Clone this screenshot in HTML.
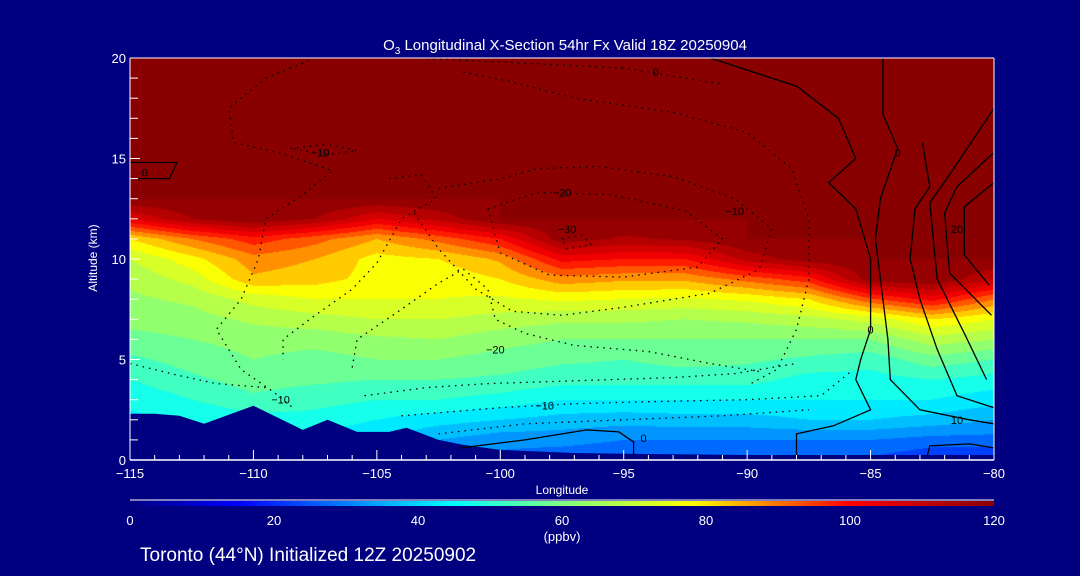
<!DOCTYPE html>
<html><head><meta charset="utf-8">
<style>
html,body{margin:0;padding:0;background:#000080;}
#wrap{position:relative;width:1080px;height:576px;background:#000080;overflow:hidden;font-family:"Liberation Sans",sans-serif;}
#field{position:absolute;left:130px;top:58px;}
svg{position:absolute;left:0;top:0;}
</style></head>
<body>
<div id="wrap">
<canvas id="field" width="864" height="402"></canvas>
<svg id="svg" width="1080" height="576">
  <defs>
    <linearGradient id="cbar" x1="0" x2="1" y1="0" y2="0">
      <stop offset="0" stop-color="rgb(0,0,130)"/>
      <stop offset="0.125" stop-color="rgb(0,0,255)"/>
      <stop offset="0.375" stop-color="rgb(0,255,255)"/>
      <stop offset="0.5" stop-color="rgb(128,255,128)"/>
      <stop offset="0.65" stop-color="rgb(255,255,0)"/>
      <stop offset="0.833" stop-color="rgb(255,0,0)"/>
      <stop offset="1" stop-color="rgb(136,0,0)"/>
    </linearGradient>
  </defs>
  <g id="terrain"></g>
  <g id="contours"></g>
  <g id="axes"></g>
  <text x="565" y="50" fill="#fff" font-size="15" text-anchor="middle">O<tspan font-size="10" dy="4">3</tspan><tspan dy="-4"> Longitudinal X-Section 54hr  Fx Valid 18Z 20250904</tspan></text>
  <text x="97" y="258" fill="#fff" font-size="12" text-anchor="middle" transform="rotate(-90 97 258)">Altitude (km)</text>
  <text x="562" y="494" fill="#fff" font-size="12" text-anchor="middle">Longitude</text>
  <line x1="130" y1="500" x2="994" y2="500" stroke="#fff" stroke-width="1"/>
  <rect x="130" y="501" width="864" height="5" fill="url(#cbar)"/>
  <g id="cbticks"></g>
  <text x="562" y="541" fill="#fff" font-size="13" text-anchor="middle">(ppbv)</text>
  <text x="140" y="561" fill="#fff" font-size="19">Toronto (44°N) Initialized 12Z 20250902</text>
</svg>
</div>
<script>
// ---- data ----
const lons = [-115,-112.5,-110,-107.5,-105,-102.5,-100,-97.5,-95,-92.5,-90,-87.5,-85,-82.5,-80];
const alts = [0,1,2,3,4,5,6,7,8,9,10,11,12,13];
const topValue = 120;
const ozone = [
 [40,42,44,46,50,54,58,62,64,66,70,80,105,120],
 [40,42,45,50,54,57,60,63,66,72,78,90,115,120],
 [40,44,48,54,57,60,62,66,72,84,88,98,120,120],
 [40,44,48,52,56,58,62,68,75,82,85,92,115,120],
 [38,40,45,50,55,60,64,70,75,78,78,85,105,120],
 [30,35,42,50,55,60,65,70,75,76,80,92,112,120],
 [28,32,40,48,54,58,62,68,74,80,86,100,120,120],
 [26,32,38,45,52,56,60,66,76,88,102,118,120,120],
 [25,30,37,45,52,55,60,66,75,86,100,114,120,120],
 [25,30,38,45,52,57,60,65,74,86,100,116,120,120],
 [25,30,38,45,52,56,60,66,76,92,112,120,120,120],
 [25,30,40,45,48,54,60,68,80,98,118,120,120,120],
 [24,30,40,45,48,52,60,72,94,118,120,120,120,120],
 [20,28,38,45,50,58,68,80,102,120,120,120,120,120],
 [20,28,35,42,48,55,65,75,90,110,120,120,120,120]
];
const terrainLon = [-115,-114,-113,-112,-110,-108,-107,-105.8,-104.5,-103.8,-102.5,-101.5,-100,-97,-94,-90,-85,-80];
const terrainAlt = [2.3,2.3,2.2,1.8,2.7,1.5,2.0,1.4,1.4,1.6,1.0,0.75,0.5,0.35,0.3,0.25,0.25,0.25];
const xTicks = [-115,-110,-105,-100,-95,-90,-85,-80];
const yTicks = [0,5,10,15,20];
const cbLabels = [0,20,40,60,80,100,120];
// contours: [lon,alt] pairs
const contourDotted = [
 [[-107.5,20],[-109.5,19],[-111,17.5],[-110.8,15.8],[-109,15.3],[-106.8,14.4],[-108,13.2],[-109.5,12],[-109.8,10],[-110.5,8],[-111.5,6.5],[-110.5,4.5],[-109.2,3.4],[-108.3,2.5]],
 [[-115,4.8],[-113,4.2],[-111.5,3.8],[-109.5,3.6]],
 [[-108.5,15.5],[-107,15.7],[-105.8,15.4],[-107,15.2],[-108.5,15.5]],
 [[-101.5,19.3],[-99.5,18.8],[-97,18],[-93,17.3],[-90,16.3],[-88.2,14.5],[-87.5,12],[-87.5,9],[-88,6.5],[-88.8,4.5],[-90,3.7]],
 [[-103.5,20],[-100,19.8],[-95,19.5],[-91,18.7]],
 [[-104.5,14],[-103.2,14.2],[-102.6,13],[-104,12],[-105,9.8],[-106,8.5],[-107.5,7.2],[-108.8,6],[-108.8,5]],
 [[-102.5,13.5],[-101,13.8],[-100,14],[-98.5,14.5],[-96,14.6],[-93,14.1],[-90.5,13],[-89,11.5],[-89.5,9.5],[-91.5,8.3],[-95,7.6],[-97.5,7.2],[-99.5,7.4],[-101,8.5],[-102.5,10.5],[-103.5,12.3]],
 [[-100.5,12.5],[-98.5,13.3],[-95.5,13.2],[-92.5,12.4],[-91,11],[-92,9.6],[-95,9.1],[-98,9.2],[-100,10.3],[-100.5,12.5]],
 [[-97.5,11],[-96.7,11.2],[-96.3,10.7],[-97.3,10.5],[-97.5,11]],
 [[-106,4.6],[-105.8,6],[-104,7.5],[-102.5,8.8],[-101.5,9.5],[-100.5,8.5],[-100.2,7],[-99,6.3],[-97,5.7],[-94,5.4],[-91.5,4.8],[-89.5,4.4]],
 [[-105.5,3.2],[-103,3.6],[-100.5,3.8],[-98,3.9],[-95.5,4],[-93,4.1],[-90.5,4.3],[-88,4.8]],
 [[-104,2.2],[-100,2.6],[-97,2.8],[-94,2.9],[-90,3.0],[-87,3.2],[-85.7,4.5]],
 [[-102.5,1.3],[-99,1.8],[-95,2.0],[-91,2.2],[-87.5,2.5]]
];
const contourSolid = [
 [[-91.5,20],[-88,18.6],[-86.3,17],[-85.6,15],[-86.7,13.8],[-85.6,12.5],[-85,10],[-85,6.5],[-85.4,5],[-85.6,4],[-85,2.5],[-86.5,1.7],[-88,1.3],[-88,0.2]],
 [[-84.5,20],[-84.5,17.2],[-83.9,15.5],[-84.6,13],[-84.8,11],[-84.5,8],[-84.3,6],[-84.2,4],[-83,2.5],[-81,2],[-80,1.8]],
 [[-82.9,15.8],[-82.6,13.6],[-83.2,12.5],[-83.4,10],[-83,8],[-82.3,5.5],[-81.5,3.2],[-80,2.6]],
 [[-80,17.5],[-81.8,14.2],[-82.6,12.8],[-82.3,9],[-81.2,6.3],[-80.3,4]],
 [[-80,15.3],[-81.5,13.6],[-82,12.3],[-81.8,9.3],[-80.1,7.2]],
 [[-80,13.8],[-81.2,12.6],[-81.2,10.2],[-80.2,8.7]],
 [[-101.6,0.6],[-99,1.0],[-96.5,1.5],[-95.2,1.4],[-94.6,0.9],[-94.6,0.2]],
 [[-82.7,0.2],[-82.6,0.7],[-81,0.8],[-80,0.6]],
 [[-115,14.8],[-113.1,14.8],[-113.4,14.0],[-115,14.0]]
];
const contourLabels = [
 [-107.3,15.3,"-10"],[-97.5,13.3,"-20"],[-97.3,11.5,"-30"],[-100.2,5.5,"-20"],[-98.2,2.7,"-10"],
 [-108.9,3,"-10"],[-94.2,1.1,"0"],[-85,6.5,"0"],[-81.5,2,"10"],[-81.5,11.5,"20"],[-90.5,12.4,"-10"],[-114.4,14.3,"0"],[-93.7,19.3,"0"],[-83.9,15.3,"0"]
];
// ---- scales ----
const X0=130,X1=994,Y0=460,Y1=58;
function xs(lon){return X0+(lon+115)*(X1-X0)/35;}
function ys(alt){return Y0-alt*(Y0-Y1)/20;}
const NS='http://www.w3.org/2000/svg';
function el(tag,attrs,parent){const e=document.createElementNS(NS,tag);for(const k in attrs)e.setAttribute(k,attrs[k]);parent.appendChild(e);return e;}
// ---- colormap ----
const cstops=[[0,[0,0,130]],[15,[0,0,255]],[45,[0,255,255]],[60,[128,255,128]],[78,[255,255,0]],[100,[255,0,0]],[120,[136,0,0]]];
function cmap(v){
  if(v<=0)return cstops[0][1];
  for(let i=1;i<cstops.length;i++){
    if(v<=cstops[i][0]){const a=cstops[i-1],b=cstops[i];const t=(v-a[0])/(b[0]-a[0]);
      return [0,1,2].map(k=>Math.round(a[1][k]+(b[1][k]-a[1][k])*t));}
  }
  return cstops[cstops.length-1][1];
}
function val(lon,alt){
  const step=lons[1]-lons[0];
  let fi=(lon-lons[0])/step; fi=Math.max(0,Math.min(lons.length-1.0001,fi));
  const i=Math.floor(fi),tx=fi-i;
  const topA=alts[alts.length-1];
  function col(c){ if(alt>=topA) return topValue; const fj=Math.max(0,alt-alts[0]); const j=Math.floor(fj),ty=fj-j; return ozone[c][j]*(1-ty)+ozone[c][j+1]*ty;}
  return col(i)*(1-tx)+col(i+1)*tx;
}
// ---- draw field ----
(function(){
  const cv=document.getElementById('field');const ctx=cv.getContext('2d');
  const W=cv.width,H=cv.height;const img=ctx.createImageData(W,H);
  for(let py=0;py<H;py++){
    const alt=(Y0-(Y1+py+0.5))*20/(Y0-Y1);
    for(let px=0;px<W;px++){
      const lon=-115+(px+0.5)*35/W;
      let v=val(lon,alt);
      v=Math.min(120,Math.floor(v/5)*5+2.5);
      const c=cmap(v);const o=(py*W+px)*4;
      img.data[o]=c[0];img.data[o+1]=c[1];img.data[o+2]=c[2];img.data[o+3]=255;
    }
  }
  ctx.putImageData(img,0,0);
})();
// ---- terrain ----
(function(){
  const g=document.getElementById('terrain');
  let d='M'+xs(terrainLon[0])+','+Y0;
  for(let i=0;i<terrainLon.length;i++) d+=' L'+xs(terrainLon[i]).toFixed(1)+','+ys(terrainAlt[i]).toFixed(1);
  d+=' L'+xs(terrainLon[terrainLon.length-1])+','+Y0+' Z';
  const p=el('path',{d:d,fill:'#000080'},g);
  
  
})();
// ---- contours ----
(function(){
  const g=document.getElementById('contours');
  function pts(arr){return arr.map(p=>xs(p[0]).toFixed(1)+','+ys(p[1]).toFixed(1)).join(' ');}
  contourDotted.forEach(c=>{
    const l=el('polyline',{points:pts(c),fill:'none',stroke:'#000','stroke-width':1.3,'stroke-dasharray':'1.5 5'},g);
    
    
  });
  contourSolid.forEach(c=>{
    const l=el('polyline',{points:pts(c),fill:'none',stroke:'#000','stroke-width':1.3},g);
    
    
  });
  contourLabels.forEach(c=>{
    const t=el('text',{x:xs(c[0]).toFixed(1),y:(ys(c[1])+4).toFixed(1),fill:'#000','font-size':11,'text-anchor':'middle'},g);
    t.textContent=c[2].replace('-','\u2212');
    
    
  });
})();
// ---- axes ----
(function(){
  const g=document.getElementById('axes');
  el('line',{x1:X0,y1:Y1,x2:X1,y2:Y1,stroke:'#fff','stroke-width':1},g);
  el('line',{x1:X0,y1:Y0,x2:X1,y2:Y0,stroke:'#fff','stroke-width':1.5},g);
  el('line',{x1:X0,y1:Y0,x2:X0,y2:Y1,stroke:'#fff','stroke-width':1},g);
  el('line',{x1:X1,y1:Y0,x2:X1,y2:Y1,stroke:'#fff','stroke-width':1},g);
  for(let lon=-115;lon<=-80;lon++){
    const major=(lon%5===0);
    el('line',{x1:xs(lon),y1:Y0,x2:xs(lon),y2:Y0-(major?10:5),stroke:'#fff','stroke-width':1},g);
  }
  for(let a=0;a<=20;a++){
    const major=(a%5===0);
    el('line',{x1:X0,y1:ys(a),x2:X0+(major?10:8),y2:ys(a),stroke:'#fff','stroke-width':1},g);
  }
  xTicks.forEach(v=>{
    const t=el('text',{x:xs(v),y:Y0+18,fill:'#fff','font-size':13,'text-anchor':'middle'},g);
    t.textContent=String(v).replace('-','\u2212');
    
    
  });
  yTicks.forEach(v=>{
    const t=el('text',{x:X0-4,y:ys(v)+5,fill:'#fff','font-size':13,'text-anchor':'end'},g);
    t.textContent=String(v);
    
    
  });
  const cb=document.getElementById('cbticks');
  cbLabels.forEach(v=>{
    const t=el('text',{x:X0+v*(X1-X0)/120,y:525,fill:'#fff','font-size':13,'text-anchor':'middle'},cb);
    t.textContent=String(v);
    
    
  });
})();
</script>
</body></html>
